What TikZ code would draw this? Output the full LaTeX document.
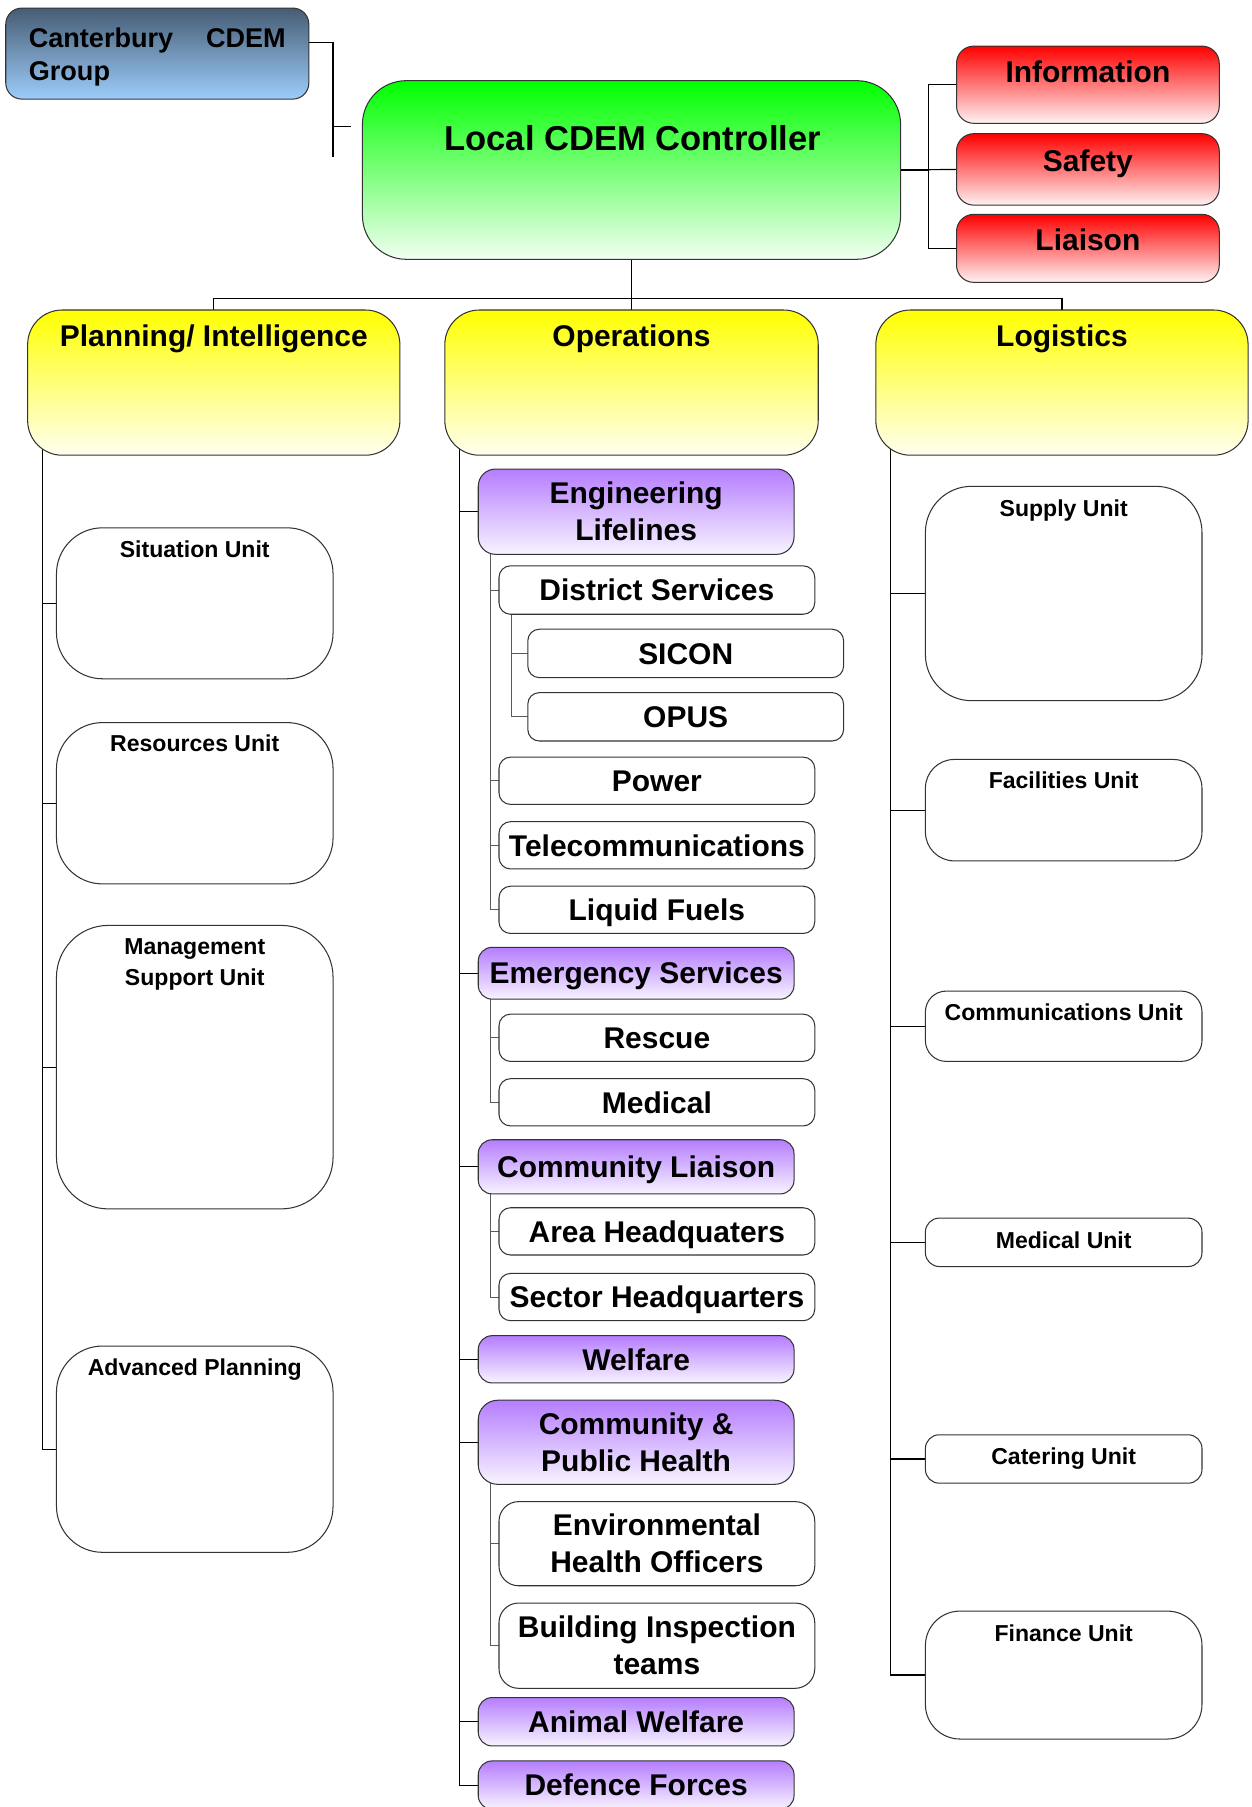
\documentclass[tikz,border=0pt]{standalone}
\usepackage{fontspec}
\setmainfont{Liberation Sans}
\usetikzlibrary{calc}
\pgfdeclarelayer{bg}
\pgfsetlayers{bg,main}
\definecolor{bluetop}{HTML}{465C74}
\definecolor{bluebot}{HTML}{9DCDFB}
\definecolor{grtop}{HTML}{00FF00}
\definecolor{grbot}{HTML}{F2FFF2}
\definecolor{rdtop}{HTML}{FF0000}
\definecolor{rdbot}{HTML}{FFF2F2}
\definecolor{yltop}{HTML}{FFFF00}
\definecolor{ylbot}{HTML}{FFFFF0}
\definecolor{pptop}{HTML}{B57DFF}
\definecolor{ppbot}{HTML}{F8F4FF}
\definecolor{edge}{HTML}{333333}
\newcommand\fntS{\fontsize{20}{27}\selectfont\bfseries}
\newcommand\fntM{\fontsize{26}{32}\selectfont\bfseries}
\newcommand\fntL{\fontsize{30}{36}\selectfont\bfseries}
\newcommand\fntC{\fontsize{23.5}{28}\selectfont\bfseries}
\begin{document}
\begin{tikzpicture}[x=1pt,y=-1pt,
  box/.style={draw=edge,line width=0.9pt,rectangle,inner sep=0pt,outer sep=0pt},
  bx/.style n args={3}{box,minimum width=#1pt,minimum height=#2pt,rounded corners=#3pt},
  pp/.style={top color=pptop,middle color=pptop!60!white,bottom color=ppbot},
  yl/.style={top color=yltop,middle color=yellow!75!white,bottom color=ylbot},
  rd/.style={top color=rdtop,middle color=red!70!white,bottom color=rdbot},
  wh/.style={fill=white},
  fm/.style={font=\fntM},
  one/.style={text height=18.6pt,text depth=0pt},
  txt/.style={inner sep=0pt,outer sep=0pt},
  ut/.style={txt,font=\fntS,anchor=base},
  ht/.style={txt,font=\fntM,anchor=base},
  conn/.style={draw=black,line width=1pt},
  subln/.style={draw=black!65,line width=0.8pt}]
\useasboundingbox (0,0) rectangle (1086,1568);

% ---- top level
\node[bx={263}{79}{14},top color=bluetop,bottom color=bluebot] (cant) at (136.5,46.5) {};
\node[txt,font=\fntC,anchor=base west] (cantA) at (25,41.5) {Canterbury};
\node[txt,font=\fntC,anchor=base east] (cantB) at (248,41.5) {CDEM};
\node[txt,font=\fntC,anchor=base west] (cantC) at (25,69.5) {Group};

\node[bx={467}{155}{38},top color=grtop,middle color=green!70!white,bottom color=grbot] (ctrl) at (548,147.5) {};
\node[txt,font=\fntL,anchor=base] (ctrlT) at (549,131) {Local CDEM Controller};

\node[bx={228}{67}{15},rd] (info) at (944,73.5) {};
\node[ht] (infoT) at ($(info.north)+(0,31.5)$) {Information};
\node[bx={228}{62}{15},rd] (safe) at (944,147) {};
\node[ht] (safeT) at ($(safe.north)+(0,33)$) {Safety};
\node[bx={228}{59}{15},rd] (liai) at (944,215.5) {};
\node[ht] (liaiT) at ($(liai.north)+(0,31)$) {Liaison};

% ---- sections
\node[bx={323}{126}{30},yl] (plan) at (185.5,332) {};
\node[ht] (planT) at ($(plan.north)+(0,32)$) {Planning/ Intelligence};
\node[bx={324}{126}{30},yl] (oper) at (548,332) {};
\node[ht] (operT) at ($(oper.north)+(0,32)$) {Operations};
\node[bx={323}{126}{30},yl] (logi) at (921.5,332) {};
\node[ht] (logiT) at ($(logi.north)+(0,32)$) {Logistics};

% ---- planning units
\node[bx={240}{131}{40},wh] (sit) at (169,523.5) {};
\node[ut] (sitT) at ($(sit.north)+(0,25.5)$) {Situation Unit};
\node[bx={240}{140}{40},wh] (res) at (169,697) {};
\node[ut] (resT) at ($(res.north)+(0,25.5)$) {Resources Unit};
\node[bx={240}{246}{45},wh] (mss) at (169,926) {};
\node[ut,align=center] (mssT) at ($(mss.north)+(0,52.5)$) {Management\\Support Unit};
\node[bx={240}{179}{40},wh] (adv) at (169,1257.5) {};
\node[ut] (advT) at ($(adv.north)+(0,25.5)$) {Advanced Planning};

% ---- logistics units
\node[bx={240}{186}{40},wh] (sup) at (923,515) {};
\node[ut] (supT) at ($(sup.north)+(0,26)$) {Supply Unit};
\node[bx={240}{88}{25},wh] (fac) at (923,703) {};
\node[ut] (facT) at ($(fac.north)+(0,25.5)$) {Facilities Unit};
\node[bx={240}{61}{18},wh] (com) at (923,890.5) {};
\node[ut] (comT) at ($(com.north)+(0,25.5)$) {Communications Unit};
\node[bx={240}{42}{12},wh] (med) at (923,1078) {};
\node[ut] (medT) at ($(med.north)+(0,26)$) {Medical Unit};
\node[bx={240}{42}{12},wh] (cat) at (923,1266) {};
\node[ut] (catT) at ($(cat.north)+(0,26)$) {Catering Unit};
\node[bx={240}{111}{30},wh] (fin) at (923,1453.5) {};
\node[ut] (finT) at ($(fin.north)+(0,26)$) {Finance Unit};

% ---- operations
\node[bx={274}{74}{15},pp,fm,align=center] (eng) at (552,444) {Engineering\\Lifelines};
\node[bx={274}{42}{10},wh,fm,one] (dis) at (570,512) {District Services};
\node[bx={274}{42}{10},wh,fm,one] (sic) at (595,567) {SICON};
\node[bx={274}{42}{10},wh,fm,one] (opu) at (595,622) {OPUS};
\node[bx={274}{41}{10},wh,fm,one] (pow) at (570,677.5) {Power};
\node[bx={274}{41}{10},wh,fm,one] (tel) at (570,733.5) {Telecommunications};
\node[bx={274}{41}{10},wh,fm,one] (liq) at (570,789.5) {Liquid Fuels};
\node[bx={274}{45}{12},pp,fm,one] (ems) at (552,844.5) {Emergency Services};
\node[bx={274}{41}{10},wh,fm,one] (rsc) at (570,900.5) {Rescue};
\node[bx={274}{41}{10},wh,fm,one] (mdc) at (570,956.5) {Medical};
\node[bx={274}{47}{12},pp,fm,one] (cli) at (552,1012.5) {Community Liaison};
\node[bx={274}{41}{10},wh,fm,one] (ahq) at (570,1068.5) {Area Headquaters};
\node[bx={274}{41}{10},wh,fm,one] (shq) at (570,1125.5) {Sector Headquarters};
\node[bx={274}{41}{12},pp,fm,one] (wel) at (552,1179.5) {Welfare};
\node[bx={274}{73}{17},pp,fm,align=center] (cph) at (552,1251.5) {Community \&\\Public Health};
\node[bx={274}{73}{17},wh,fm,align=center] (eho) at (570,1339.5) {Environmental\\Health Officers};
\node[bx={274}{74}{17},wh,fm,align=center] (bit) at (570,1428) {Building Inspection\\teams};
\node[bx={274}{42}{12},pp,fm,one] (anw) at (552,1494) {Animal Welfare};
\node[bx={274}{42}{12},pp,fm,one] (def) at (552,1549) {Defence Forces};

% ---- connectors
\begin{pgfonlayer}{bg}
\fill[white] (0,0) rectangle (1086,1568);
\coordinate (cantEnd) at (289,136);
\coordinate (cantMid) at (289,110);
\coordinate (ctrlTick) at (305,110);
\draw[conn] ($(cant.north east)+(0,30)$) -| (cantEnd);
\draw[conn] (cantMid) -- (ctrlTick);
\draw[conn] (ctrl.east) -- ++(24,0) |- (info.west);
\draw[conn] (ctrl.east) -- ++(24,0) |- (liai.west);
\draw[conn] (ctrl.east) -- (safe.west);
\draw[conn] (ctrl.south) -- ++(0,34) -| (plan.north);
\draw[conn] (ctrl.south) -- ++(0,34) -| (logi.north);
\draw[conn] (ctrl.south) -- (oper.north);
\foreach \n in {sit,res,mss,adv} \draw[conn] ($(plan.south west)+(13,-10)$) |- (\n.west);
\foreach \n in {sup,fac,com,med,cat,fin} \draw[conn] ($(logi.south west)+(13,-10)$) |- (\n.west);
\foreach \n in {eng,ems,cli,wel,cph,anw,def} \draw[conn] ($(oper.south west)+(13,-10)$) |- (\n.west);
\foreach \n in {dis,pow,tel,liq} \draw[subln] ($(eng.south west)+(11,-5)$) |- (\n.west);
\foreach \n in {sic,opu} \draw[subln] ($(dis.south west)+(11,-5)$) |- (\n.west);
\foreach \n in {rsc,mdc} \draw[subln] ($(ems.south west)+(11,-5)$) |- (\n.west);
\foreach \n in {ahq,shq} \draw[subln] ($(cli.south west)+(11,-5)$) |- (\n.west);
\foreach \n in {eho,bit} \draw[subln] ($(cph.south west)+(11,-5)$) |- (\n.west);
\end{pgfonlayer}
\end{tikzpicture}
\end{document}
